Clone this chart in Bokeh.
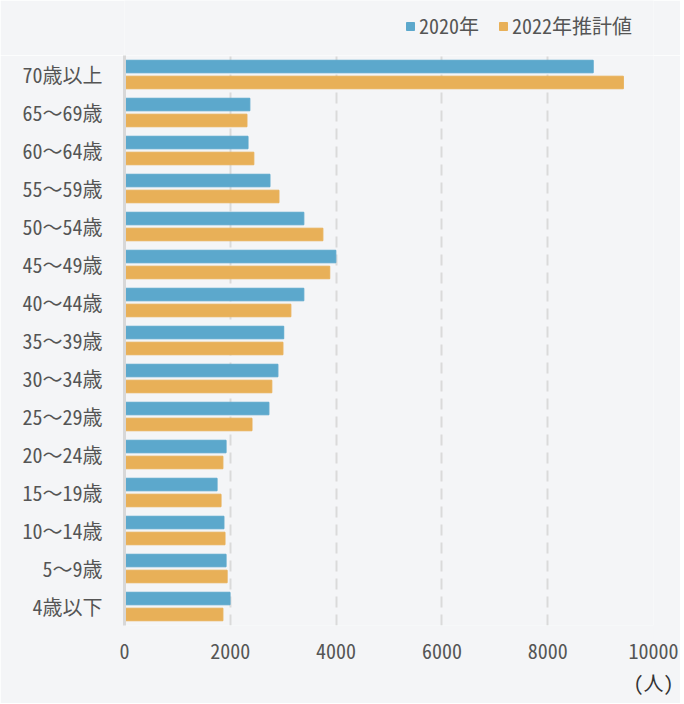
from bokeh.plotting import figure
from bokeh.layouts import column
from bokeh.models import FactorRange, Range1d, Legend, LegendItem, Title, ColumnDataSource, FixedTicker
from bokeh.transform import dodge
from bokeh.embed import file_html
from bokeh.resources import INLINE

categories = ["70歳以上", "65～69歳", "60～64歳", "55～59歳", "50～54歳", "45～49歳",
              "40～44歳", "35～39歳", "30～34歳", "25～29歳", "20～24歳", "15～19歳",
              "10～14歳", "5～9歳", "4歳以下"]
values_2020 = [8860, 2370, 2335, 2750, 3390, 3995, 3390, 3010, 2900, 2730,
               1920, 1750, 1880, 1920, 1995]
values_2022 = [9430, 2315, 2445, 2920, 3750, 3880, 3145, 2995, 2785, 2410,
               1860, 1825, 1900, 1940, 1860]
series_names = ["2020年", "2022年推計値"]
x_ticks = [0, 2000, 4000, 6000, 8000, 10000]
unit_label = "(人)"

FONT = "Noto Sans Mono CJK JP, DejaVu Sans Mono, Noto Sans CJK JP, monospace"
BG = "#f4f5f7"
BLUE = "#5ca8cc"
ORANGE = "#e8b058"
FS = "20px"

src = ColumnDataSource(dict(cat=categories, a=values_2020, b=values_2022))

y_range = FactorRange(factors=list(reversed(categories)))
x_range = Range1d(0, 10000)

# legend strip on top (shares ranges; its bar renderers are hidden, used only as legend keys)
top = figure(width=680, height=55, output_backend="svg", toolbar_location=None,
             x_range=x_range, y_range=y_range,
             min_border_left=124, min_border_right=27, min_border_top=0, min_border_bottom=0)
top.axis.visible = False
top.grid.visible = False
top.background_fill_color = BG
top.border_fill_color = BG
top.outline_line_color = None
lr1 = top.hbar(y="cat", right="a", left=0, height=0.33, color=BLUE, source=src, visible=False)
lr2 = top.hbar(y="cat", right="b", left=0, height=0.33, color=ORANGE, source=src, visible=False)
legend = Legend(items=[LegendItem(label=series_names[0], renderers=[lr1]),
                       LegendItem(label=series_names[1], renderers=[lr2])],
                location=(281, 15), orientation="horizontal",
                background_fill_alpha=0, border_line_color=None,
                inactive_fill_alpha=0,
                padding=0, margin=0, spacing=19,
                glyph_width=10, glyph_height=10, label_standoff=4,
                label_text_font=FONT, label_text_font_size=FS,
                label_text_color="#555555")
top.add_layout(legend, "center")

p = figure(width=680, height=648, output_backend="svg", toolbar_location=None,
           y_range=y_range, x_range=x_range,
           min_border_left=124, min_border_right=27, min_border_top=0, min_border_bottom=78)
p.background_fill_color = BG
p.border_fill_color = BG
p.outline_line_color = None

p.hbar(y=dodge("cat", 0.21, range=p.y_range), right="a", left=0, height=0.33,
       color=BLUE, source=src)
p.hbar(y=dodge("cat", -0.21, range=p.y_range), right="b", left=0, height=0.33,
       color=ORANGE, source=src)

p.ygrid.grid_line_color = None
p.xgrid.grid_line_color = "#dadada"
p.xgrid.grid_line_width = 2
p.xgrid.grid_line_dash = "11 7"
p.xaxis.ticker = FixedTicker(ticks=x_ticks)

p.xaxis.axis_line_color = None
p.xaxis.major_tick_line_color = None
p.xaxis.minor_tick_line_color = None
p.xaxis.major_label_text_font = FONT
p.xaxis.major_label_text_font_size = FS
p.xaxis.major_label_text_color = "#555555"
p.xaxis.major_label_standoff = 12

p.yaxis.axis_line_color = "#d8d8d8"
p.yaxis.axis_line_width = 3
p.yaxis.major_tick_line_color = None
p.yaxis.minor_tick_line_color = None
p.yaxis.major_label_text_font = FONT
p.yaxis.major_label_text_font_size = FS
p.yaxis.major_label_text_color = "#555555"
p.yaxis.major_label_standoff = 16

p.add_layout(Title(text=unit_label, align="right", offset=-20, standoff=8,
                   text_font=FONT, text_font_size=FS, text_font_style="normal",
                   text_color="#333333"), "below")

layout = column(top, p, spacing=0)
open("out.html", "w").write(file_html(layout, INLINE))
